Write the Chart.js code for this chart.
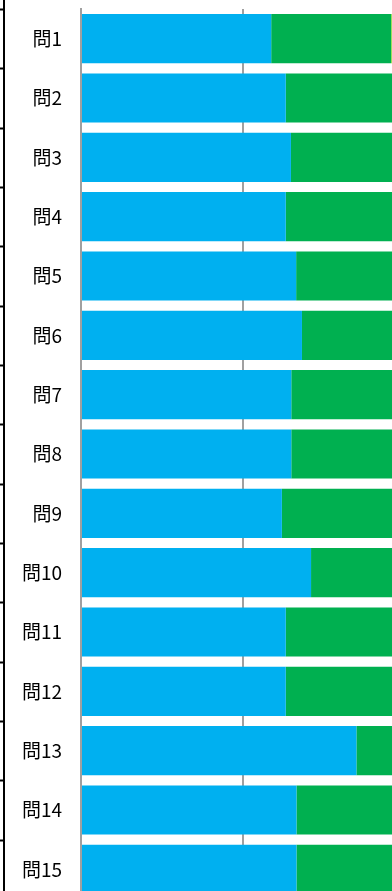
<!DOCTYPE html>
<html lang="ja">
<head>
  <meta charset="UTF-8">
  <title>問別の回答割合</title>
  <script src="https://cdn.jsdelivr.net/npm/chart.js"></script>
  <style>
    html, body {
      margin: 0;
      padding: 0;
      background: #ffffff;
      overflow: hidden;
    }
    canvas {
      display: block;
    }
  </style>
</head>
<body>

<canvas id="grafico" width="405" height="900"></canvas>

<script>
// categorias y valores (%)
const preguntas = ['問1', '問2', '問3', '問4', '問5', '問6', '問7', '問8',
                   '問9', '問10', '問11', '問12', '問13', '問14', '問15'];
const azul  = [58.7, 63.2, 64.8, 63.2, 66.4, 68.2, 64.9, 64.9, 62.0, 71.0, 63.2, 63.2, 85.0, 66.5, 66.5];
const verde = [37.1, 36.8, 35.2, 36.8, 33.6, 31.8, 35.1, 35.1, 38.0, 29.0, 36.8, 36.8, 15.0, 33.5, 33.5];
const amarillo = [4.2, 0, 0, 0, 0, 0, 0, 0, 0, 0, 0, 0, 0, 0, 0];

// borde negro de la tabla a la izquierda
const bordeTabla = {
  id: 'bordeTabla',
  afterDraw(chart) {
    const ctx = chart.ctx;
    const y = chart.scales.y;
    ctx.save();
    ctx.strokeStyle = '#000000';
    ctx.lineWidth = 2;
    ctx.beginPath();
    ctx.moveTo(4, 0);
    ctx.lineTo(4, chart.height);
    for (let i = 0; i <= preguntas.length; i++) {
      const py = Math.round(y.getPixelForValue(i - 0.5)) + 0.5;
      ctx.moveTo(0, py);
      ctx.lineTo(5, py);
    }
    ctx.stroke();
    ctx.restore();
  }
};

const ctx = document.getElementById('grafico').getContext('2d');

new Chart(ctx, {
  type: 'bar',
  data: {
    labels: preguntas,
    datasets: [
      { label: 'A', data: azul, backgroundColor: '#00B0F0' },
      { label: 'B', data: verde, backgroundColor: '#00B050' },
      { label: 'C', data: amarillo, backgroundColor: '#FFFF00' }
    ]
  },
  options: {
    indexAxis: 'y',
    responsive: false,
    animation: false,
    layout: { padding: { top: 9, bottom: 1, left: 0, right: 0 } },
    datasets: {
      bar: { categoryPercentage: 1, barPercentage: 0.83 }
    },
    scales: {
      x: {
        stacked: true,
        min: 0,
        max: 100,
        ticks: { display: false, stepSize: 50 },
        grid: { color: '#a0a0a0', lineWidth: 2, drawTicks: false },
        border: { display: false },
        afterFit(scale) {
          scale.height = 0;
          scale.paddingLeft = 0;
          scale.paddingRight = 0;
        }
      },
      y: {
        stacked: true,
        ticks: {
          color: '#000000',
          padding: 19,
          font: { family: "'Noto Sans CJK JP', 'Noto Sans', sans-serif", size: 19 }
        },
        grid: { display: false, drawTicks: false },
        border: { display: true, color: '#a0a0a0', width: 2 },
        afterFit(scale) {
          scale.width = 81;
          scale.paddingTop = 0;
          scale.paddingBottom = 0;
        }
      }
    },
    plugins: {
      legend: { display: false },
      tooltip: { enabled: false }
    }
  },
  plugins: [bordeTabla]
});
</script>

</body>
</html>
